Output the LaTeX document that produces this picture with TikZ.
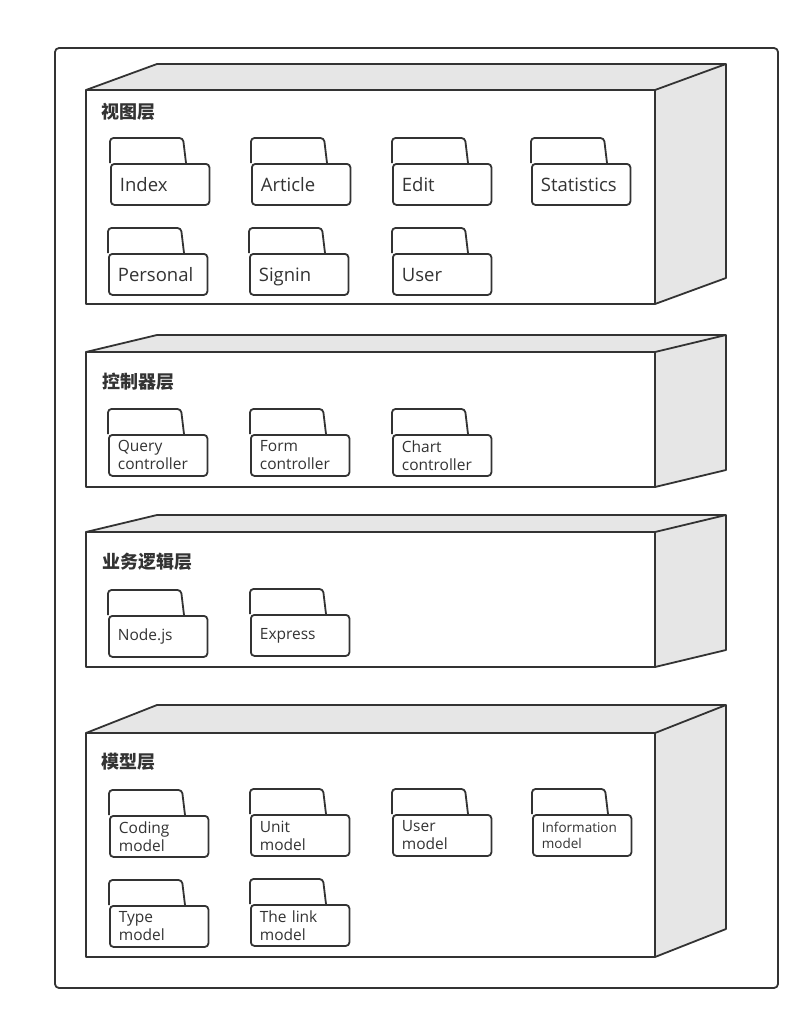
\documentclass[tikz,border=0pt]{standalone}
\usepackage{fontspec}
\setmainfont{Open Sans}
\newfontfamily\cjk{Noto Sans CJK SC}
\definecolor{lc}{HTML}{333333}
\definecolor{tc}{HTML}{333333}
\definecolor{face}{HTML}{E6E6E6}
\newcommand\pkgbox[5]{%
  \node[body,#4] (#1) at (#2,#3+25) {#5};
  \draw[ln, rounded corners=3.5pt] (#1.north west) -- ++(0,-25) -- ++(73,0) -- ++(3,25);
}
\newcommand\layerbox[4]{% back top y, front top y, front bottom y, depth
  \fill[face] (86,#2) -- (157,#1) -- (726,#1) -- (655,#2) -- cycle;
  \fill[face] (655,#2) -- (726,#1) -- (726,#3-#4) -- (655,#3) -- cycle;
  \draw[ln] (86,#2) -- (157,#1) -- (726,#1) -- (655,#2);
  \draw[ln] (726,#1) -- (726,#3-#4) -- (655,#3);
  \draw[ln, fill=white] (86,#2) rectangle (655,#3);
}
\begin{document}
\begin{tikzpicture}[x=1pt,y=-1pt, line join=round,
  ln/.style={draw=lc, line width=1.8pt},
  body/.style={ln, fill=white, rounded corners=3.5pt, minimum width=98.5pt,
    minimum height=41pt, text width=80.5pt, inner xsep=9pt, inner ysep=0pt,
    align=left, anchor=north west, text=tc},
  title/.style={anchor=west, inner sep=0pt, text=tc,
    font=\cjk\bfseries\fontsize{18}{18}\selectfont},
  big/.style={font=\fontsize{18.5}{22}\selectfont, text depth=0pt},
  mid/.style={font=\fontsize{15.5}{18}\selectfont},
  small/.style={font=\fontsize{13.5}{16}\selectfont}]
\useasboundingbox (0,0) rectangle (810,1020);
\draw[ln, rounded corners=4pt] (55,48) rectangle (778,988);

% layer 1
\layerbox{64}{90}{304}{26}
\node[title] (t1) at (101,111.5) {视图层};
\pkgbox{index}{110}{138}{big}{Index}
\pkgbox{article}{251}{138}{big}{Article}
\pkgbox{edit}{392}{138}{big}{Edit}
\pkgbox{statistics}{531}{138}{big}{Statistics}
\pkgbox{personal}{108}{228}{big}{Personal}
\pkgbox{signin}{249}{228}{big}{Signin}
\pkgbox{user}{392}{228}{big}{User}

% layer 2
\layerbox{335}{352}{487}{17}
\node[title] (t2) at (102,381.5) {控制器层};
\pkgbox{query}{108}{409}{mid}{Query\\controller}
\pkgbox{form}{250}{409}{mid}{Form\\controller}
\pkgbox{chart}{392}{409}{mid}{Chart\\controller}

% layer 3
\layerbox{515}{532}{667}{17}
\node[title] (t3) at (102,561.5) {业务逻辑层};
\pkgbox{nodejs}{108}{590}{mid}{Node.js}
\pkgbox{express}{250}{589}{mid}{Express}

% layer 4
\layerbox{705}{733}{957}{28}
\node[title] (t4) at (101,761.5) {模型层};
\pkgbox{coding}{109}{790}{mid}{Coding\\model}
\pkgbox{unit}{250}{789}{mid}{Unit\\model}
\pkgbox{usermodel}{392}{789}{mid}{User\\model}
\pkgbox{information}{532}{789}{small}{Information\\model}
\pkgbox{type}{109}{880}{mid}{Type\\model}
\pkgbox{link}{250}{879}{mid}{The link\\model}
\end{tikzpicture}
\end{document}
